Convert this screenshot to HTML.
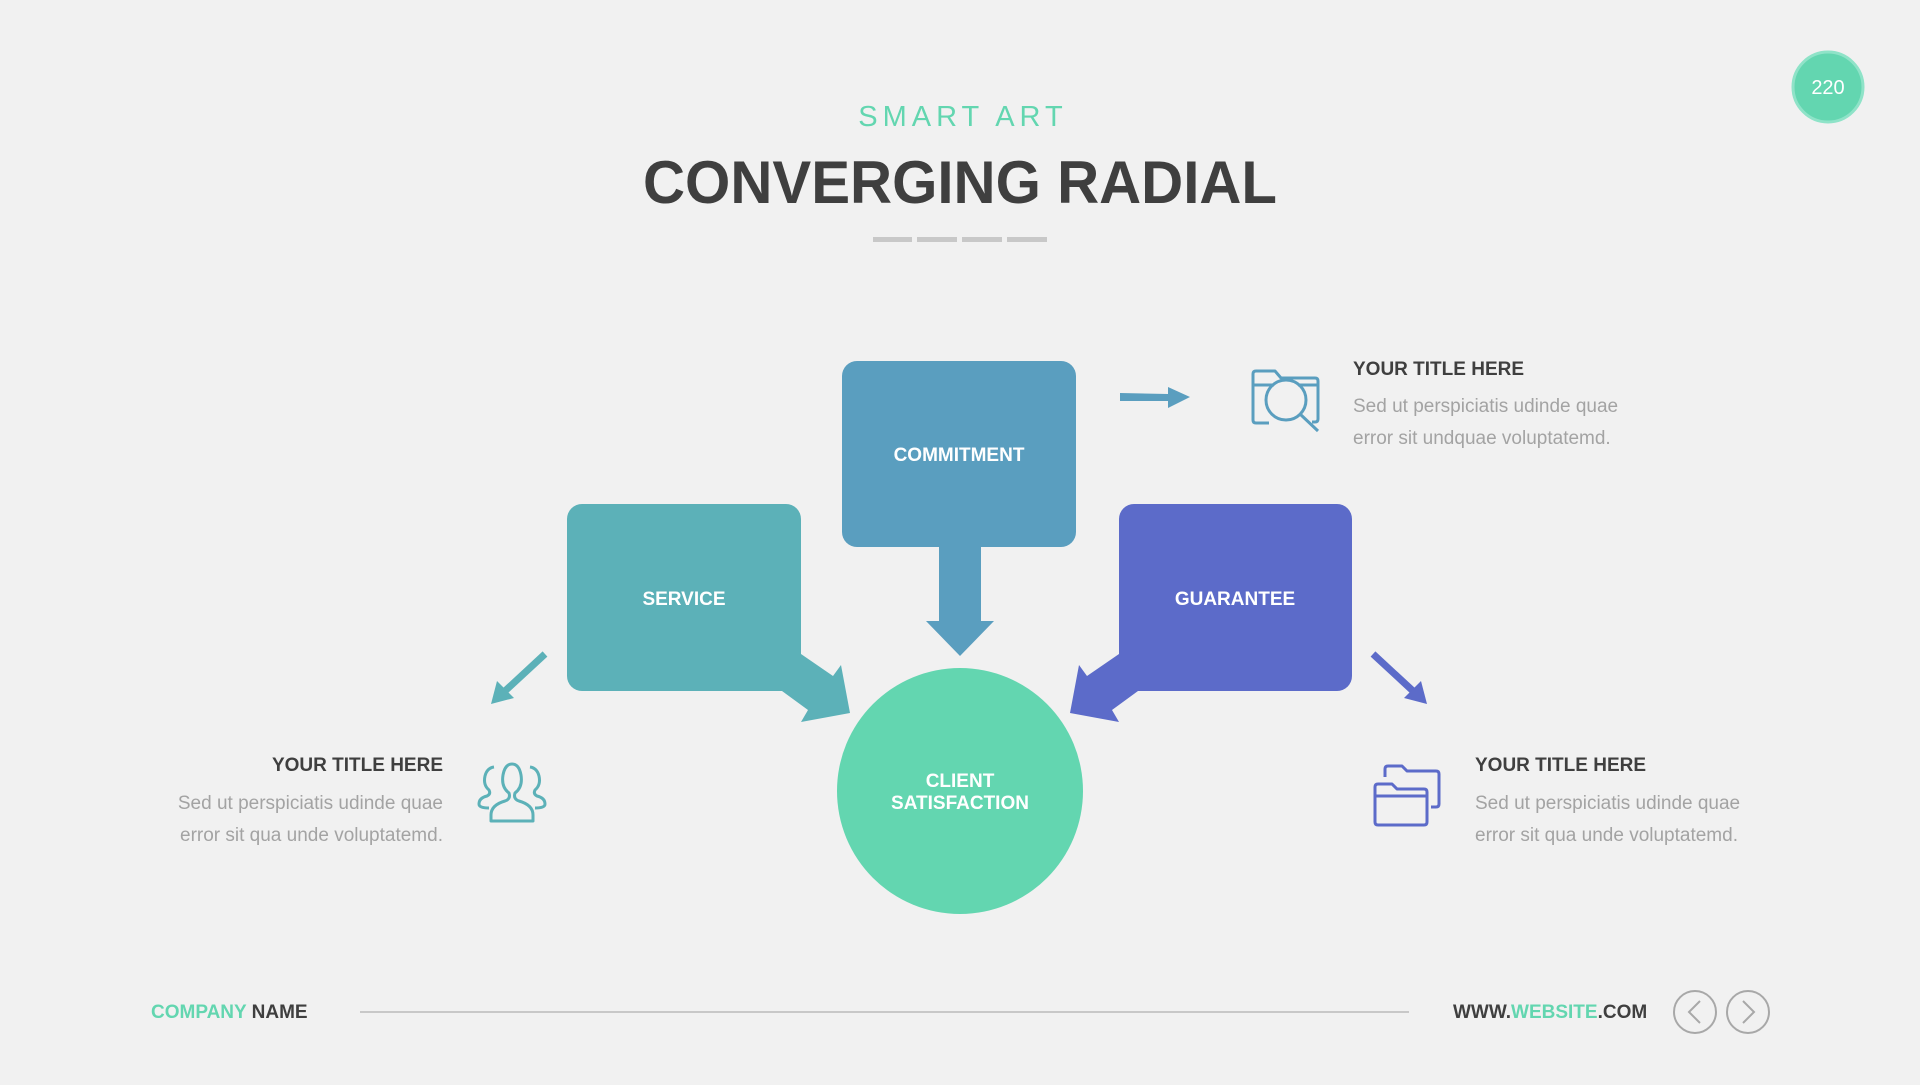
<!DOCTYPE html>
<html><head><meta charset="utf-8"><style>
html,body{margin:0;padding:0;background:#f1f1f1;}
body{width:1920px;height:1080px;overflow:hidden;font-family:"Liberation Sans",sans-serif;}
</style></head><body>
<svg width="1920" height="1080" viewBox="0 0 1920 1080" xmlns="http://www.w3.org/2000/svg" font-family="Liberation Sans, sans-serif">
<rect width="1920" height="1080" fill="#f1f1f1"/>
<circle cx="1828" cy="87" r="35" fill="#63d6b0" stroke="#8fe3c8" stroke-width="3"/>
<text x="1828" y="94" font-size="20" fill="#fff" text-anchor="middle">220</text>
<text x="963" y="126" font-size="29" fill="#63d6b0" text-anchor="middle" letter-spacing="5">SMART ART</text>
<text x="960" y="203" font-size="60" font-weight="bold" fill="#3f3f3f" text-anchor="middle" textLength="634" lengthAdjust="spacingAndGlyphs">CONVERGING RADIAL</text>
<g fill="#c8c8c8"><rect x="873" y="237" width="39" height="5"/><rect x="917" y="237" width="40" height="5"/><rect x="962" y="237" width="40" height="5"/><rect x="1007" y="237" width="40" height="5"/></g>

<rect x="842" y="361" width="234" height="186" rx="15" fill="#5a9ebf"/>
<polygon points="939,540 981,540 981,621 994,621 960,656 926,621 939,621" fill="#5a9ebf"/>
<text x="959" y="461" font-size="19" font-weight="bold" fill="#fff" text-anchor="middle">COMMITMENT</text>
<rect x="567" y="504" width="234" height="187" rx="15" fill="#5cb1b8"/>
<polygon points="790,654 801,654 833,676 841,665 850,713 801,722 808,710 782,691 780,691" fill="#5cb1b8"/>
<text x="684" y="605" font-size="19" font-weight="bold" fill="#fff" text-anchor="middle">SERVICE</text>
<rect x="1119" y="504" width="233" height="187" rx="15" fill="#5c6bc9"/>
<polygon points="1130,654 1119,654 1087,676 1079,665 1070,713 1119,722 1112,710 1138,691 1140,691" fill="#5c6bc9"/>
<text x="1235" y="605" font-size="19" font-weight="bold" fill="#fff" text-anchor="middle">GUARANTEE</text>
<circle cx="960" cy="791" r="123" fill="#63d6b0"/>
<text x="960" y="787" font-size="19" font-weight="bold" fill="#fff" text-anchor="middle">CLIENT</text>
<text x="960" y="809" font-size="19" font-weight="bold" fill="#fff" text-anchor="middle">SATISFACTION</text>

<polygon points="1120,393 1168,394 1168,387 1190,397 1168,408 1168,401 1120,401" fill="#5a9ebf"/>
<line x1="545" y1="654" x2="505" y2="691" stroke="#5cb1b8" stroke-width="7"/>
<polygon points="491,704 497,681 514,698" fill="#5cb1b8"/>
<line x1="1373" y1="654" x2="1413" y2="691" stroke="#5c6bc9" stroke-width="7"/>
<polygon points="1427,704 1421,681 1404,698" fill="#5c6bc9"/>

<g fill="none" stroke="#5a9ebf" stroke-width="3" stroke-linejoin="round">
<path d="M1269,423 H1256 Q1253,423 1253,420 V374 Q1253,371 1256,371 H1275 L1281,378 H1315 Q1318,378 1318,381 V419 Q1318,422 1315,422 H1312"/>
<line x1="1253" y1="385" x2="1274" y2="385"/><line x1="1298" y1="385" x2="1318" y2="385"/>
<circle cx="1286" cy="400" r="20"/>
<line x1="1300" y1="414" x2="1318" y2="431"/>
</g>
<g fill="none" stroke="#5cb1b8" stroke-width="3" stroke-linejoin="round">
<path d="M491,821 v-6 q0,-10 14,-14 q6,-2 4,-8 q-8,-6 -6,-18 q2,-11 9,-11 q7,0 9,11 q2,12 -6,18 q-2,6 4,8 q14,4 14,14 v6 z"/>
<path d="M489,808 q-10,0 -10,-4 q0,-6 8,-8 q4,-2 2,-6 q-6,-5 -4,-14 q2,-8 9,-9"/>
<path d="M535,808 q10,0 10,-4 q0,-6 -8,-8 q-4,-2 -2,-6 q6,-5 4,-14 q-2,-8 -9,-9"/>
</g>
<g fill="none" stroke="#5c6bc9" stroke-width="3" stroke-linejoin="round">
<path d="M1385,777 v-8 q0,-3 3,-3 h14 l5,5 h29 q3,0 3,3 v30 q0,3 -3,3 h-5"/>
<path d="M1375,822 v-35 q0,-3 3,-3 h14 l5,5 h27 q3,0 3,3 v30 q0,3 -3,3 h-46 q-3,0 -3,-3 z"/>
<line x1="1375" y1="796" x2="1427" y2="796"/>
</g>

<g font-size="19">
<text x="1353" y="375" font-weight="bold" fill="#3f3f3f">YOUR TITLE HERE</text>
<text x="1353" y="412" fill="#a3a3a3">Sed ut perspiciatis udinde quae</text>
<text x="1353" y="444" fill="#a3a3a3">error sit undquae voluptatemd.</text>
<text x="443" y="771" font-weight="bold" fill="#3f3f3f" text-anchor="end">YOUR TITLE HERE</text>
<text x="443" y="809" fill="#a3a3a3" text-anchor="end">Sed ut perspiciatis udinde quae</text>
<text x="443" y="841" fill="#a3a3a3" text-anchor="end">error sit qua unde voluptatemd.</text>
<text x="1475" y="771" font-weight="bold" fill="#3f3f3f">YOUR TITLE HERE</text>
<text x="1475" y="809" fill="#a3a3a3">Sed ut perspiciatis udinde quae</text>
<text x="1475" y="841" fill="#a3a3a3">error sit qua unde voluptatemd.</text>
</g>

<text x="151" y="1018" font-size="19" font-weight="bold" fill="#3f3f3f"><tspan fill="#63d6b0">COMPANY</tspan> NAME</text>
<line x1="360" y1="1012" x2="1409" y2="1012" stroke="#c8c8c8" stroke-width="2"/>
<text x="1453" y="1018" font-size="19" font-weight="bold" fill="#3f3f3f">WWW.<tspan fill="#63d6b0">WEBSITE</tspan>.COM</text>
<g fill="none" stroke="#a8a8a8" stroke-width="2">
<circle cx="1695" cy="1012" r="21"/><circle cx="1748" cy="1012" r="21"/>
<polyline points="1700,1001 1689,1012 1700,1023"/>
<polyline points="1743,1001 1754,1012 1743,1023"/>
</g>
</svg>
</body></html>
